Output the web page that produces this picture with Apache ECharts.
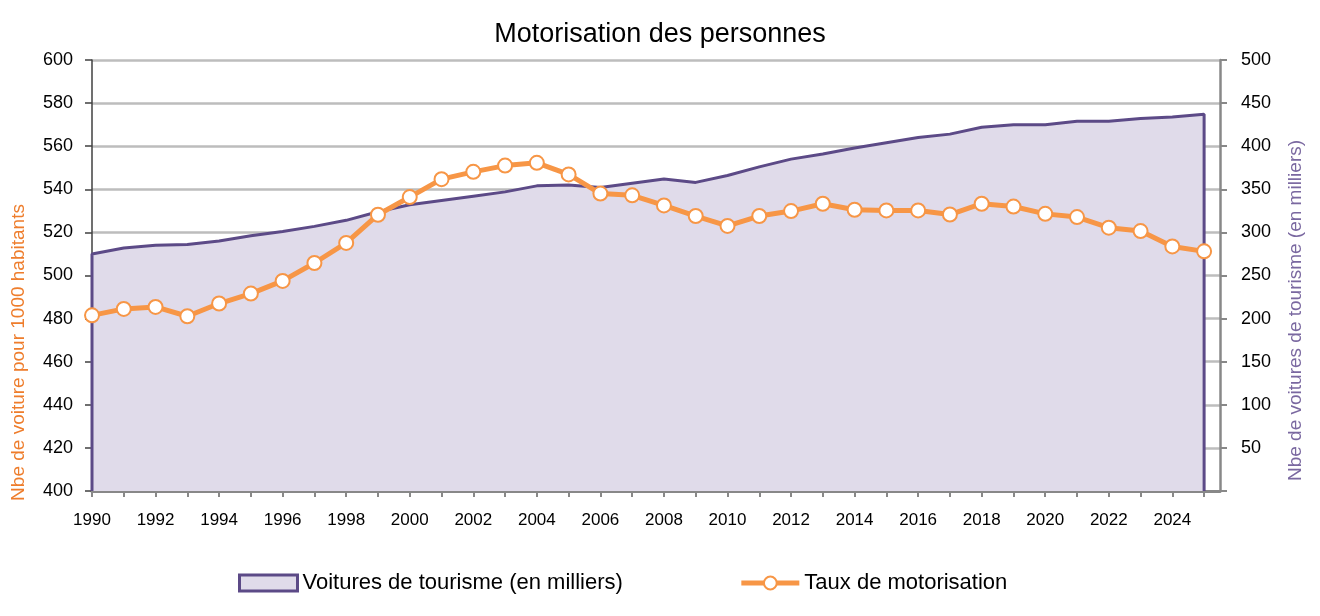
<!DOCTYPE html>
<html><head><meta charset="utf-8">
<script src="https://cdn.jsdelivr.net/npm/echarts@6/dist/echarts.min.js"></script>
<style>html,body{margin:0;padding:0;background:#fff}#c{width:1320px;height:616px}</style>
</head><body><div id="c"></div>
<script>
const years = [1990,1991,1992,1993,1994,1995,1996,1997,1998,1999,2000,2001,2002,2003,2004,2005,2006,2007,2008,2009,2010,2011,2012,2013,2014,2015,2016,2017,2018,2019,2020,2021,2022,2023,2024,2025];
const voitures = [275,282,285,286,290,296,301,307,314,324,332,337,342,347,354,355,352,357,362,358,366,376,385,391,398,404,410,414,422,425,425,429,429,432,434,437];
const taux = [481.5,484.5,485.4,481.1,487.0,491.6,497.5,505.8,515.1,528.2,536.4,544.7,548.1,551.0,552.3,546.9,538.0,537.2,532.5,527.6,523.0,527.6,529.9,533.3,530.5,530.2,530.2,528.3,533.3,532.0,528.6,527.1,522.2,520.6,513.5,511.2];
const leftTicks = {min:400, max:600, step:20};
const rightTicks = {min:0, max:500, step:50};

const FONT = "'Liberation Sans Narrow','Arial Narrow','Liberation Sans',sans-serif";
const PURPLE = '#5c4a87', FILL = '#e0dbea', ORANGE = '#f79646';

const areaData = [[years[0], rightTicks.min]].concat(years.map((y,i)=>[y, voitures[i]]), [[years[years.length-1], rightTicks.min]]);
const lineData = years.map((y,i)=>[y, taux[i]]);

const chart = echarts.init(document.getElementById('c'), null, {renderer:'canvas'});
chart.setOption({
  animation:false,
  textStyle:{fontFamily:FONT},
  title:{text:'Motorisation des personnes', left:'center', top:16,
    textStyle:{fontFamily:FONT, fontSize:27, fontWeight:'normal', color:'#000'}},
  grid:{left:92, right:100, top:60, bottom:125},
  legend:{bottom:17, left:233, itemGap:116, itemWidth:58, itemHeight:16,
    textStyle:{fontFamily:FONT, fontSize:22, color:'#000'},
    data:[
      {name:'Voitures de tourisme (en milliers)', icon:'rect', itemStyle:{color:FILL, borderColor:PURPLE, borderWidth:3}},
      {name:'Taux de motorisation', lineStyle:{color:ORANGE, width:5}, itemStyle:{color:'#fff', borderColor:ORANGE, borderWidth:2}}
    ]},
  xAxis:{type:'value', min:years[0], max:years[years.length-1]+0.5, interval:1,
    axisLine:{lineStyle:{color:'#888', width:3}},
    axisTick:{show:true, length:6, lineStyle:{color:'#888', width:2}},
    splitLine:{show:false},
    axisLabel:{fontFamily:FONT, fontSize:17, color:'#000', margin:21, showMaxLabel:false,
      formatter:v=> (Number.isInteger(v) && v%2===0) ? String(v) : ''}},
  yAxis:[
    {type:'value', min:leftTicks.min, max:leftTicks.max, interval:leftTicks.step,
      name:'Nbe de voiture pour 1000 habitants', nameLocation:'middle', nameGap:64, nameRotate:90,
      nameTextStyle:{fontFamily:FONT, fontSize:19, color:'#ee7d2c', padding:[0,154,0,0]},
      axisLine:{show:true, lineStyle:{color:'#404040', width:1.5}},
      axisTick:{show:true, length:7, lineStyle:{color:'#404040', width:1.5}},
      splitLine:{show:true, lineStyle:{color:'#bdbdbd', width:2.5}},
      axisLabel:{fontFamily:FONT, fontSize:18, color:'#000', margin:19}},
    {type:'value', min:rightTicks.min, max:rightTicks.max, interval:rightTicks.step, position:'right',
      name:'Nbe de voitures de tourisme (en milliers)', nameLocation:'middle', nameGap:66, nameRotate:90,
      nameTextStyle:{fontFamily:FONT, fontSize:19, color:'#7a68a0', padding:[0,70,0,0]},
      axisLine:{show:true, lineStyle:{color:'#888', width:2.5}},
      axisTick:{show:true, length:7, lineStyle:{color:'#888', width:2}},
      splitLine:{show:false},
      axisLabel:{fontFamily:FONT, fontSize:18, color:'#000', margin:21, formatter:v=> v===0 ? '' : String(v)}}
  ],
  series:[
    {name:'Voitures de tourisme (en milliers)', type:'line', yAxisIndex:1, data:areaData,
      symbol:'none', lineStyle:{color:PURPLE, width:3}, itemStyle:{color:PURPLE},
      areaStyle:{color:FILL, opacity:1}, z:1},
    {name:'Taux de motorisation', type:'line', yAxisIndex:0, data:lineData,
      symbol:'circle', symbolSize:14, lineStyle:{color:ORANGE, width:5},
      itemStyle:{color:'#fff', borderColor:ORANGE, borderWidth:2}, z:3}
  ]
});
</script></body></html>
